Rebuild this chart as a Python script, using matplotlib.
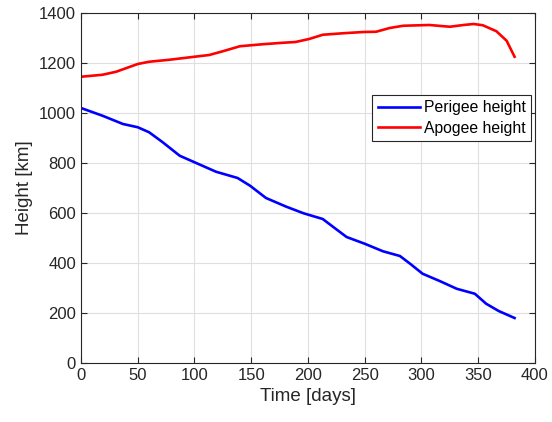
import matplotlib.pyplot as plt

plt.rcParams["font.family"] = ["Liberation Sans", "DejaVu Sans"]

# perigee height
perigee_days = [0, 19, 37, 50, 60, 72, 87, 100, 119, 138, 149, 163, 181, 196, 213,
                222, 234, 250, 266, 281, 290, 301, 316, 331, 347, 357, 368, 382]
perigee_km = [1020, 989, 956, 943, 923, 883, 829, 803, 765, 740, 709, 660, 625, 599, 576,
              545, 504, 477, 447, 428, 397, 357, 328, 297, 277, 237, 208, 180]

# apogee height
apogee_days = [0, 19, 31, 50, 60, 78, 100, 113, 125, 140, 160, 178, 189, 201, 213, 231,
               249, 260, 272, 284, 307, 325, 337, 346, 354, 366, 375, 382]
apogee_km = [1145, 1153, 1165, 1196, 1205, 1213, 1225, 1232, 1247, 1267, 1275, 1281, 1284,
             1296, 1313, 1319, 1324, 1325, 1340, 1349, 1352, 1345, 1352, 1356, 1351, 1327,
             1289, 1225]


def main():
    fig = plt.figure(figsize=(5.52, 4.22), dpi=100)
    ax = fig.add_axes([0.1467, 0.1398, 0.8225, 0.8294])

    ax.plot(perigee_days, perigee_km, color="#0000ff", lw=1.9, label="Perigee height")
    ax.plot(apogee_days, apogee_km, color="#ff0000", lw=1.9, label="Apogee height")

    ax.set_xlim(0, 400)
    ax.set_ylim(0, 1400)
    ax.set_xticks(range(0, 401, 50))
    ax.set_yticks(range(0, 1401, 200))
    ax.grid(True, color="#dfdfdf", lw=0.8)
    ax.set_axisbelow(True)
    ax.tick_params(direction="in", top=True, right=True, labelsize=12,
                   colors="#262626", length=4)
    for s in ax.spines.values():
        s.set_color("#262626")
        s.set_linewidth(0.8)

    ax.set_xlabel("Time [days]", fontsize=13.5, color="#262626")
    ax.set_ylabel("Height [km]", fontsize=13.5, color="#262626")

    leg = ax.legend(loc="upper right", bbox_to_anchor=(0.992, 0.766), fontsize=11.3,
                    fancybox=False, framealpha=1, edgecolor="#262626",
                    handlelength=2.7, borderpad=0.35, labelspacing=0.35,
                    handletextpad=0.25, borderaxespad=0)
    leg.get_frame().set_linewidth(0.8)

    fig.savefig("out.png", dpi=100)


if __name__ == "__main__":
    main()
